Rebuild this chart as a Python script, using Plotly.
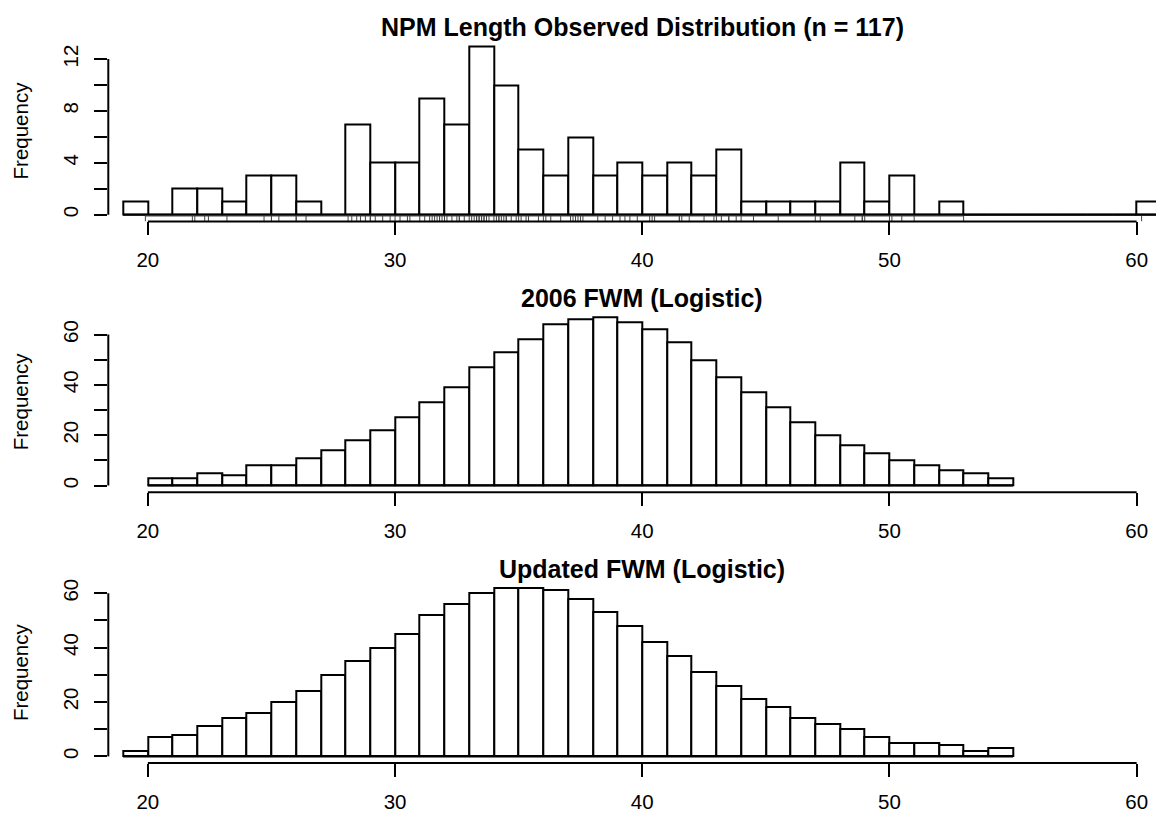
import plotly.graph_objects as go

# ---------------- data ----------------
TOP_TITLE = "NPM Length Observed Distribution (n = 117)"
MID_TITLE = "2006 FWM (Logistic)"
BOT_TITLE = "Updated FWM (Logistic)"
Y_LABEL = "Frequency"

# histogram counts, unit-width bins starting at *_BIN_START
TOP_BIN_START = 19
TOP_COUNTS = [1, 0, 2, 2, 1, 3, 3, 1, 0, 7, 4, 4, 9, 7, 13, 10, 5, 3, 6, 3,
              4, 3, 4, 3, 5, 1, 1, 1, 1, 4, 1, 3, 0, 1, 0, 0, 0, 0, 0, 0, 0, 1]
MID_BIN_START = 20
MID_COUNTS = [3, 3, 5, 4, 8, 8, 11, 14, 18, 22, 27, 33, 39, 47, 53, 58, 64, 66,
              67, 65, 62, 57, 50, 43, 37, 31, 25, 20, 16, 13, 10, 8, 6, 5, 3]
BOT_BIN_START = 19
BOT_COUNTS = [2, 7, 8, 11, 14, 16, 20, 24, 30, 35, 40, 45, 52, 56, 60, 62, 62,
              61, 58, 53, 48, 42, 37, 31, 26, 21, 18, 14, 12, 10, 7, 5, 5, 4, 2, 3]

# observed lengths shown as a rug under the top histogram
RUG_VALUES = [19.9,
              21.8, 21.9, 22.3, 22.45, 23.2,
              24.7, 25.0, 25.0, 25.3, 26.0, 26.0, 26.4,
              28.1, 28.25, 28.45, 28.6, 28.8, 29.0, 29.0,
              29.2, 29.5, 29.8, 30.0,
              30.2, 30.5, 30.6, 31.0,
              31.2, 31.4, 31.5, 31.6, 31.7, 31.8, 31.8, 31.9, 32.0,
              32.1, 32.3, 32.5, 32.6, 32.6, 32.8, 33.0,
              33.1, 33.2, 33.3, 33.3, 33.4, 33.4, 33.5, 33.5, 33.6, 33.6, 33.7, 33.8, 34.0,
              34.1, 34.2, 34.2, 34.3, 34.4, 34.5, 34.5, 34.7, 34.9, 35.0,
              35.1, 35.3, 35.4, 35.8, 36.0,
              36.1, 36.3, 36.7,
              37.1, 37.2, 37.3, 37.4, 37.5, 37.6,
              38.2, 38.5, 38.8,
              39.1, 39.3, 39.5, 39.8,
              40.3, 40.4, 40.5,
              41.5, 41.5, 41.6, 41.9,
              42.5, 42.9, 43.0,
              43.2, 43.5, 43.5, 43.8, 44.0,
              44.5, 45.5, 47.0, 47.2,
              48.6, 48.9, 48.9, 49.0,
              50.0,
              50.1, 50.5, 51.0,
              53.0,
              60.2]

XLIM = [20, 60]
X_TICKS = [20, 30, 40, 50, 60]
X_LABELS = ["20", "30", "40", "50", "60"]
TOP_Y_TICKS = [0, 2, 4, 6, 8, 10, 12]
TOP_Y_LABELS = ["0", "", "4", "", "8", "", "12"]
FWM_Y_TICKS = [0, 10, 20, 30, 40, 50, 60]
FWM_Y_LABELS = ["0", "", "20", "", "40", "", "60"]

# ---------------- style / layout ----------------
W, H = 1156, 813
PLOT_LEFT = 108.3          # px of the left edge of each plot region
PX_PER_UNIT = 24.72        # horizontal scale
PANEL_TOPS = [37.5, 309.0, 580.5]
PANEL_H = 182.5
FONT = "Liberation Sans, Arial, Helvetica, sans-serif"
TICK_FONT = 20.5
TITLE_FONT = 25
LW = 2

pad = 0.04 * (XLIM[1] - XLIM[0])
x_lo = XLIM[0] - pad
x_hi = x_lo + (W - PLOT_LEFT) / PX_PER_UNIT

panels = [
    (TOP_TITLE, TOP_BIN_START, TOP_COUNTS, TOP_Y_TICKS, TOP_Y_LABELS, True),
    (MID_TITLE, MID_BIN_START, MID_COUNTS, FWM_Y_TICKS, FWM_Y_LABELS, False),
    (BOT_TITLE, BOT_BIN_START, BOT_COUNTS, FWM_Y_TICKS, FWM_Y_LABELS, False),
]

fig = go.Figure()
layout = dict(
    width=W, height=H,
    margin=dict(l=0, r=0, t=0, b=0),
    paper_bgcolor="white", plot_bgcolor="white",
    showlegend=False, hovermode=False, bargap=0,
    font=dict(family=FONT, color="black", size=TICK_FONT),
)
shapes = []
annotations = []

for i, (title, start, counts, yticks, ylabels, rug) in enumerate(panels):
    n = "" if i == 0 else str(i + 1)
    xa, ya = "x" + n, "y" + n
    edges = [start + k for k in range(len(counts) + 1)]
    centers = [start + k + 0.5 for k in range(len(counts))]
    ymax = max(counts)
    yr = [-0.04 * ymax, 1.04 * ymax]
    top = PANEL_TOPS[i]
    dom = [(H - top - PANEL_H) / H, (H - top) / H]

    fig.add_trace(go.Bar(
        x=centers, y=counts, width=1, xaxis=xa, yaxis=ya,
        marker=dict(color="white", line=dict(color="black", width=LW)),
    ))
    # zero-height bins are drawn as a baseline in R's hist
    fig.add_trace(go.Scatter(
        x=[edges[0], edges[-1]], y=[0, 0], mode="lines", xaxis=xa, yaxis=ya,
        line=dict(color="black", width=LW),
    ))
    if rug:
        r0 = yr[0]
        r1 = yr[0] + 0.03 * (yr[1] - yr[0])
        rx, ry = [], []
        for v in RUG_VALUES:
            rx += [v, v, None]
            ry += [r0, r1, None]
        fig.add_trace(go.Scatter(
            x=rx, y=ry, mode="lines", xaxis=xa, yaxis=ya,
            line=dict(color="#444444", width=1),
        ))
        srt = sorted(RUG_VALUES)
        fig.add_trace(go.Scatter(
            x=[srt[0], srt[-2]], y=[r1, r1], mode="lines", xaxis=xa, yaxis=ya,
            line=dict(color="#444444", width=1),
        ))

    layout["xaxis" + n] = dict(
        domain=[PLOT_LEFT / W, 1], range=[x_lo, x_hi], anchor=ya,
        tickmode="array", tickvals=X_TICKS, ticktext=X_LABELS,
        ticks="outside", ticklen=13, tickwidth=LW, tickcolor="black",
        showgrid=False, zeroline=False, showline=False,
        tickfont=dict(size=TICK_FONT, color="black", family=FONT),
        ticklabelstandoff=7,
    )
    layout["yaxis" + n] = dict(
        domain=dom, range=yr, anchor=xa,
        tickmode="array", tickvals=yticks, ticktext=ylabels, tickangle=-90,
        ticks="outside", ticklen=13, tickwidth=LW, tickcolor="black",
        showgrid=False, zeroline=False, showline=False,
        tickfont=dict(size=TICK_FONT, color="black", family=FONT),
        ticklabelstandoff=8,
    )
    # R-style axis lines spanning first..last tick
    shapes.append(dict(type="line", xref=xa, yref=ya + " domain",
                       x0=X_TICKS[0], x1=X_TICKS[-1], y0=0, y1=0,
                       line=dict(color="black", width=LW)))
    shapes.append(dict(type="line", xref=xa + " domain", yref=ya,
                       x0=0, x1=0, y0=yticks[0], y1=yticks[-1],
                       line=dict(color="black", width=LW)))
    annotations.append(dict(
        text="<b>" + title + "</b>", xref=xa, yref=ya + " domain",
        x=(XLIM[0] + XLIM[1]) / 2, y=1, yshift=12, xanchor="center",
        yanchor="middle", showarrow=False,
        font=dict(size=TITLE_FONT, family=FONT, color="black"),
    ))
    annotations.append(dict(
        text=Y_LABEL, xref="paper", yref=ya + " domain",
        x=20 / W, y=0.5, xanchor="center", yanchor="middle",
        textangle=-90, showarrow=False,
        font=dict(size=TICK_FONT, family=FONT, color="black"),
    ))

layout["shapes"] = shapes
layout["annotations"] = annotations
fig.update_layout(**layout)
fig.write_html(
    "out.html",
    config={"displayModeBar": False},
    post_script="document.body.style.margin='0';"
                "document.body.style.overflow='hidden';",
)
